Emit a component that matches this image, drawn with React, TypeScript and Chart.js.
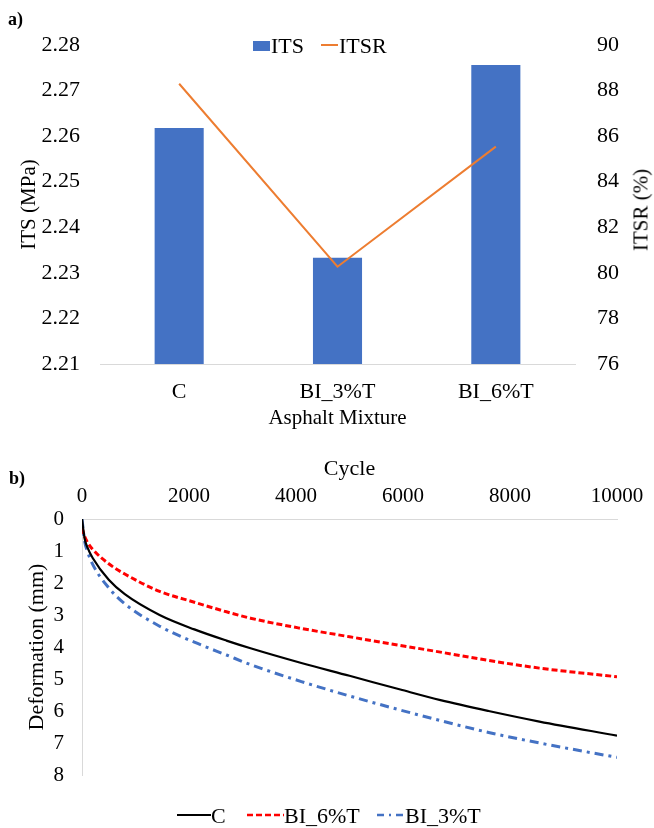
import React, { useEffect, useRef } from 'react';
import { Chart, registerables } from 'chart.js';

Chart.register(...registerables);

// ---- Data: chart a) ----
const categories = ['C', 'BI_3%T', 'BI_6%T'];
const itsValues = [2.2618, 2.2333, 2.2756];
const itsrValues = [88.3, 80.27, 85.54];

// ---- Data: chart b) ----
const cycles = [0, 50, 100, 200, 500, 800, 1450, 2100, 2700, 3150, 4100, 5000, 5950, 6700, 7600, 8550, 10000];
const deformationC = [0, 0.62, 0.88, 1.22, 1.9, 2.35, 3.0, 3.45, 3.8, 4.04, 4.5, 4.9, 5.33, 5.66, 6.0, 6.33, 6.77];
const deformationBI6 = [0.28, 0.55, 0.72, 0.95, 1.4, 1.72, 2.26, 2.6, 2.9, 3.1, 3.42, 3.68, 3.95, 4.16, 4.42, 4.66, 4.93];
const deformationBI3 = [0, 0.7, 1.0, 1.42, 2.15, 2.65, 3.35, 3.85, 4.25, 4.55, 5.08, 5.53, 5.97, 6.3, 6.67, 7.0, 7.45];
const cycleTicks = [0, 2000, 4000, 6000, 8000, 10000];

const FAMILY = "'Liberation Serif', 'Times New Roman', serif";
const BLUE = '#4472C4';
const ORANGE = '#ED7D31';
const AXIS_GRAY = '#d9d9d9';

function ChartA() {
  const ref = useRef<HTMLCanvasElement>(null);
  useEffect(() => {
    const font = { family: FAMILY, size: 22 };
    const chart = new Chart(ref.current!, {
      type: 'bar',
      data: {
        labels: categories,
        datasets: [
          {
            type: 'line',
            label: 'ITSR',
            data: itsrValues,
            yAxisID: 'y1',
            borderColor: ORANGE,
            backgroundColor: ORANGE,
            borderWidth: 2,
            pointRadius: 0,
            tension: 0,
            order: 0,
          } as any,
          {
            type: 'bar',
            label: 'ITS',
            data: itsValues,
            yAxisID: 'y',
            backgroundColor: BLUE,
            barPercentage: 0.31,
            categoryPercentage: 1,
            order: 1,
          },
        ],
      },
      options: {
        responsive: false,
        animation: false,
        layout: { padding: { top: 45, left: 13, right: 0, bottom: 0 } },
        plugins: { legend: { display: false }, tooltip: { enabled: false } },
        scales: {
          x: {
            grid: { display: false, drawTicks: false },
            border: { display: true, color: AXIS_GRAY, width: 1 },
            ticks: { font, color: '#000', padding: 15, maxRotation: 0 },
            title: { display: true, text: 'Asphalt Mixture', font: { family: FAMILY, size: 21 }, color: '#000', padding: { top: 0, bottom: 0 } },
            afterFit: (s: any) => { s.height = 67; },
          },
          y: {
            position: 'left',
            min: 2.21,
            max: 2.28,
            grid: { display: false, drawTicks: false },
            border: { display: false },
            ticks: { stepSize: 0.01, font, color: '#000', padding: 20, callback: (v: any) => Number(v).toFixed(2) },
            title: { display: true, text: 'ITS (MPa)', font: { family: FAMILY, size: 21 }, color: '#000', padding: { top: 4, bottom: 0 } },
            afterFit: (s: any) => { s.width = 87; },
          },
          y1: {
            position: 'right',
            min: 76,
            max: 90,
            grid: { display: false, drawTicks: false },
            border: { display: false },
            ticks: { stepSize: 2, font, color: '#000', padding: 22 },
            afterFit: (s: any) => { s.width = 79; },
          },
        },
      },
    });
    return () => chart.destroy();
  }, []);
  return <canvas ref={ref} width={654} height={431} style={{ position: 'absolute', left: 0, top: 0 }} />;
}

function ChartB() {
  const ref = useRef<HTMLCanvasElement>(null);
  useEffect(() => {
    const tickFont = { family: FAMILY, size: 21 };
    const titleFont = { family: FAMILY, size: 22 };
    const pts = (arr: number[]) => cycles.map((c, i) => ({ x: c, y: arr[i] }));
    const chart = new Chart(ref.current!, {
      type: 'line',
      data: {
        datasets: [
          {
            label: 'C',
            data: pts(deformationC),
            borderColor: '#000000',
            borderWidth: 2.2,
            pointRadius: 0,
            cubicInterpolationMode: 'monotone',
          },
          {
            label: 'BI_6%T',
            data: pts(deformationBI6),
            borderColor: '#FF0000',
            borderWidth: 3,
            borderDash: [6, 3],
            pointRadius: 0,
            cubicInterpolationMode: 'monotone',
          },
          {
            label: 'BI_3%T',
            data: pts(deformationBI3),
            borderColor: BLUE,
            borderWidth: 3,
            borderDash: [9, 5, 3, 5],
            pointRadius: 0,
            cubicInterpolationMode: 'monotone',
          },
        ],
      },
      options: {
        responsive: false,
        animation: false,
        layout: { padding: { top: 26, left: 21, right: 37, bottom: 53 } },
        plugins: { legend: { display: false }, tooltip: { enabled: false } },
        scales: {
          x: {
            type: 'linear',
            position: 'top',
            min: 0,
            max: 10000,
            afterBuildTicks: (s: any) => { s.ticks = cycleTicks.map((v) => ({ value: v })); },
            grid: { display: false, drawTicks: false },
            border: { display: true, color: AXIS_GRAY, width: 1 },
            ticks: { font: tickFont, color: '#000', padding: 10, maxRotation: 0, callback: (v: any) => String(v) },
            title: { display: true, text: 'Cycle', font: titleFont, color: '#000', padding: { top: 0, bottom: 0 } },
            afterFit: (s: any) => { s.height = 63; },
          },
          y: {
            reverse: true,
            min: 0,
            max: 8,
            grid: { display: false, drawTicks: false },
            border: { display: true, color: AXIS_GRAY, width: 1 },
            ticks: { stepSize: 1, font: tickFont, color: '#000', padding: 18 },
            title: { display: true, text: 'Deformation (mm)', font: titleFont, color: '#000', padding: { top: 3, bottom: 0 } },
            afterFit: (s: any) => { s.width = 61; },
          },
        },
      },
    });
    return () => chart.destroy();
  }, []);
  return <canvas ref={ref} width={654} height={398} style={{ position: 'absolute', left: 0, top: 430 }} />;
}

const textStyle: React.CSSProperties = {
  position: 'absolute',
  fontFamily: FAMILY,
  fontSize: 21,
  lineHeight: '1',
  color: '#000',
  whiteSpace: 'nowrap',
  transform: 'translateY(-50%)',
};

function Txt({ x, y, children, size, bold }: { x: number; y: number; children: React.ReactNode; size?: number; bold?: boolean }) {
  return (
    <div style={{ ...textStyle, left: x, top: y, fontSize: size ?? 22, fontWeight: bold ? 'bold' : 'normal' }}>{children}</div>
  );
}

function LineMark({ x, y, w, color, width, dash }: { x: number; y: number; w: number; color: string; width: number; dash?: string }) {
  return (
    <svg style={{ position: 'absolute', left: x, top: y - 4 }} width={w} height={8}>
      <line x1={0} y1={4} x2={w} y2={4} stroke={color} strokeWidth={width} strokeDasharray={dash} />
    </svg>
  );
}

export default function App() {
  return (
    <div style={{ position: 'absolute', left: 0, top: 0, width: 654, height: 828, background: '#fff', overflow: 'hidden' }}>
      <ChartA />
      <ChartB />
      {/* panel labels */}
      <Txt x={8} y={19} size={18} bold>a)</Txt>
      <Txt x={9} y={478} size={18} bold>b)</Txt>
      {/* right axis title of chart a */}
      <div
        style={{
          position: 'absolute',
          left: 641,
          top: 210,
          fontFamily: FAMILY,
          fontSize: 21,
          lineHeight: '1',
          whiteSpace: 'nowrap',
          color: '#000',
          transform: 'translate(-50%, -50%) rotate(-90deg)',
        }}
      >
        ITSR (%)
      </div>
      {/* legend chart a */}
      <div style={{ position: 'absolute', left: 253, top: 41, width: 17, height: 10, background: BLUE }} />
      <Txt x={271} y={46}>ITS</Txt>
      <LineMark x={321} y={45} w={17} color={ORANGE} width={2} />
      <Txt x={339} y={46}>ITSR</Txt>
      {/* legend chart b */}
      <LineMark x={177} y={815} w={34} color="#000" width={2.2} />
      <Txt x={211} y={816}>C</Txt>
      <LineMark x={247} y={815} w={37} color="#FF0000" width={2.5} dash="6 3" />
      <Txt x={284} y={816}>BI_6%T</Txt>
      <LineMark x={377} y={815} w={28} color={BLUE} width={2.5} dash="7 5 2 5" />
      <Txt x={405} y={816}>BI_3%T</Txt>
    </div>
  );
}
